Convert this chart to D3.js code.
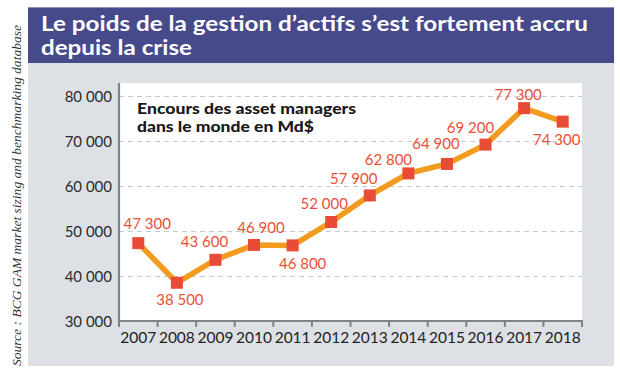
<!DOCTYPE html>
<html><head><meta charset="utf-8">
<script src="https://cdn.jsdelivr.net/npm/d3@7"></script>
<style>
html,body{margin:0;padding:0;background:#fff;}
svg{display:block;}
</style></head>
<body>
<svg id="chart" width="620" height="372"></svg>
<script>
const years = ["2007","2008","2009","2010","2011","2012","2013","2014","2015","2016","2017","2018"];
const values = [47300,38500,43600,46900,46800,52000,57900,62800,64900,69200,77300,74300];
const yTicks = [30000,40000,50000,60000,70000,80000];
const titleLines = ["Le poids de la gestion d\u2019actifs s\u2019est fortement accru","depuis la crise"];
const noteLines = ["Encours des asset managers","dans le monde en Md$"];
const sourceText = "Source : BCG GAM market sizing and benchmarking database";
// label placement relative to marker centre (style, not data)
const labelOffsets = [[9,-20],[3,17],[-11,-18],[7,-17],[10,18],[-7,-18],[-16,-17],[-20,-14],[-11,-20],[-15,-17],[-6,-14],[-6,18]];

const svg = d3.select("#chart");
const fr = d3.formatLocale({decimal:",", thousands:"\u202f", grouping:[3], currency:["","$"]});
const fmt = v => fr.format(",")(v).replace(/\u202f/g," ");

// background panels
svg.append("rect").attr("x",28).attr("y",63).attr("width",586).attr("height",303).attr("fill","#dde1e5");
svg.append("rect").attr("x",28).attr("y",7).attr("width",586).attr("height",56).attr("fill","#464a8b");
svg.append("line").attr("x1",28).attr("x2",614).attr("y1",7.5).attr("y2",7.5).attr("stroke","#8c90bb").attr("stroke-width",1);

// title
const tt = svg.append("text").attr("fill","#fff").attr("font-family","Lato, 'Open Sans', sans-serif")
  .attr("font-weight",700).attr("font-size",21.5);
tt.append("tspan").attr("x",41).attr("y",31).attr("textLength",547).attr("lengthAdjust","spacingAndGlyphs").text(titleLines[0]);
tt.append("tspan").attr("x",41).attr("y",55).attr("textLength",151).attr("lengthAdjust","spacingAndGlyphs").text(titleLines[1]);

// source (vertical)
svg.append("text").attr("transform","translate(21,366) rotate(-90)")
  .attr("font-family","'Liberation Serif','DejaVu Serif',serif").attr("font-style","italic")
  .attr("font-size",13.5).attr("fill","#333").attr("textLength",341).attr("lengthAdjust","spacingAndGlyphs")
  .text(sourceText);

// plot area
const L=119, R=582, T=83, B=321;
svg.append("rect").attr("x",L).attr("y",T).attr("width",R-L).attr("height",B-T).attr("fill","#fff");

const x = d3.scaleBand().domain(years).range([L,R]).padding(0);
const y = d3.scaleLinear().domain([30000,80000]).range([B,96]);

// grid
svg.append("g").selectAll("line").data(yTicks.filter(t=>t>30000)).join("line")
  .attr("x1",L).attr("x2",R).attr("y1",d=>Math.round(y(d))+0.5).attr("y2",d=>Math.round(y(d))+0.5)
  .attr("stroke","#c3cad1").attr("stroke-width",1).attr("stroke-dasharray","5,4");

// y axis
const ya = svg.append("g").attr("transform",`translate(${L},0)`)
  .call(d3.axisLeft(y).tickValues(yTicks).tickSize(0).tickPadding(7).tickFormat(fmt));
ya.select(".domain").remove();
ya.selectAll("text").attr("font-family","Lato, 'Open Sans', sans-serif").attr("font-size",15).attr("fill","#2a2a2a").attr("dy","0.34em");
svg.append("line").attr("x1",L).attr("x2",L).attr("y1",T).attr("y2",B+1).attr("stroke","#7b838b").attr("stroke-width",2.2);

// x axis
const xa = svg.append("g").attr("transform",`translate(0,${B})`)
  .call(d3.axisBottom(x).tickSize(0).tickPadding(11));
xa.select(".domain").remove();
xa.selectAll("text").attr("font-family","Lato, 'Open Sans', sans-serif").attr("font-size",15.5).attr("fill","#222");
svg.append("line").attr("x1",L-1).attr("x2",R+1).attr("y1",B).attr("y2",B).attr("stroke","#7b838b").attr("stroke-width",2.2);
const edges = years.map(d=>x(d)).concat([x(years[years.length-1])+x.bandwidth()]);
svg.append("g").selectAll("line").data(edges).join("line")
  .attr("x1",d=>d).attr("x2",d=>d).attr("y1",B).attr("y2",B+6)
  .attr("stroke","#7b838b").attr("stroke-width",2);

// note
const nt = svg.append("text").attr("fill","#1a1a1a").attr("font-family","Lato, 'Open Sans', sans-serif")
  .attr("font-weight",900).attr("font-size",15.5);
nt.append("tspan").attr("x",137).attr("y",113.5).attr("textLength",219).attr("lengthAdjust","spacingAndGlyphs").text(noteLines[0]);
nt.append("tspan").attr("x",137).attr("y",132).attr("textLength",177).attr("lengthAdjust","spacingAndGlyphs").text(noteLines[1]);

// line
const cx = d => x(d) + x.bandwidth()/2;
const line = d3.line().x((d,i)=>cx(years[i])).y(d=>y(d));
svg.append("path").datum(values).attr("d",line).attr("fill","none")
  .attr("stroke","#f29b1f").attr("stroke-width",5.5).attr("stroke-linejoin","miter");

// markers
const ms = 12;
svg.append("g").selectAll("rect").data(values).join("rect")
  .attr("x",(d,i)=>cx(years[i])-ms/2).attr("y",d=>y(d)-ms/2).attr("width",ms).attr("height",ms)
  .attr("fill","#e94c36");

// value labels
svg.append("g").selectAll("text").data(values).join("text")
  .attr("x",(d,i)=>cx(years[i])+labelOffsets[i][0]).attr("y",(d,i)=>y(d)+labelOffsets[i][1])
  .attr("dy","0.36em").attr("text-anchor","middle")
  .attr("font-family","Lato, 'Open Sans', sans-serif").attr("font-size",15).attr("fill","#e9503a")
  .text(d=>fmt(d));
</script>
</body></html>
